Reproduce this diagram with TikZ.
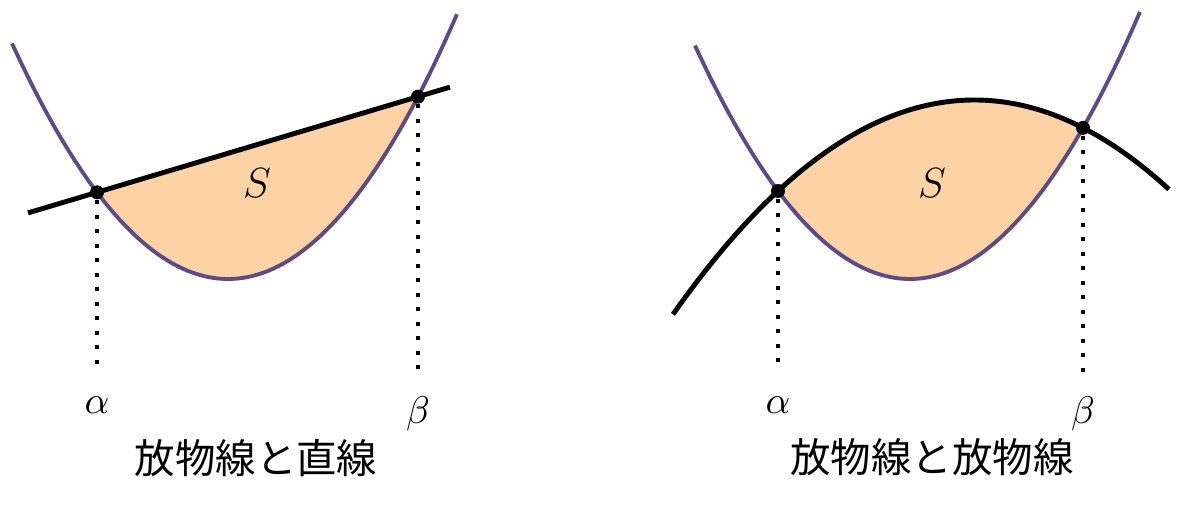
\documentclass[tikz,border=0pt]{standalone}
\usepackage{fontspec}
\newfontfamily\jpfont{Noto Sans CJK JP}
\usetikzlibrary{positioning}

\definecolor{parab}{RGB}{91,75,138}
\definecolor{area}{RGB}{253,210,165}

\tikzset{declare function={
  fl(\x)=2.27+0.505*(\x-2.28)*(\x-2.28);
  hl(\x)=fl(0.97)+(fl(4.18)-fl(0.97))/(4.18-0.97)*(\x-0.97);
  fr(\x)=2.27+0.505*(\x-9.10)*(\x-9.10);
  gr(\x)=fr(\x)-0.741*(\x-7.78)*(\x-10.83);
}}

\begin{document}
\begin{tikzpicture}[
  parabcurve/.style={parab, line width=1.1pt, smooth, samples=80},
  blackcurve/.style={black, line width=1.4pt},
  dotline/.style={line width=0.04cm, dash pattern=on 0.04cm off 0.105cm},
  pt/.style={circle, fill=black, inner sep=0pt, minimum size=0.14cm},
  lbl/.style={anchor=north, inner sep=0pt, font=\fontsize{11}{13}\selectfont},
  arealbl/.style={font=\fontsize{12}{14}\selectfont},
  caption/.style={font=\jpfont\fontsize{11.5}{14}\selectfont}]

\useasboundingbox (0,0) rectangle (12.01,5.06);
%\draw[step=1cm,color=gray!40] (0,0) grid (12,5);

% left: parabola and straight line
\fill[area] plot[smooth, samples=60, domain=0.97:4.18] (\x,{fl(\x)}) -- cycle;
\draw[parabcurve] plot[domain=0.12:4.57] (\x,{fl(\x)});
\coordinate (lineS) at (0.28,{hl(0.28)});
\coordinate (lineE) at (4.50,{hl(4.50)});
\draw[blackcurve] (lineS) -- (lineE);

\node[pt] (aL) at (0.97,{fl(0.97)}) {};
\node[pt] (bL) at (4.18,{fl(4.18)}) {};
\coordinate (aLb) at (0.97,1.34);
\coordinate (bLb) at (4.18,1.34);
\draw[dotline] (aL) -- (aLb);
\draw[dotline] (bL) -- (bLb);
\node[lbl] (aLl) at (0.97,1.10) {$\alpha$};
\node[lbl] (bLl) at (4.18,1.10) {$\beta$};
\node[arealbl] (sL) at (2.57,3.23) {$S$};
\node[caption] (capL) at (2.56,0.48) {放物線と直線};

% right: two parabolas
\fill[area] plot[smooth, samples=60, domain=7.78:10.83] (\x,{fr(\x)})
  -- plot[smooth, samples=60, domain=10.83:7.78] (\x,{gr(\x)}) -- cycle;
\draw[parabcurve] plot[domain=6.95:11.40] (\x,{fr(\x)});
\draw[blackcurve] plot[smooth, samples=80, domain=6.73:11.69] (\x,{gr(\x)});

\node[pt] (aR) at (7.78,{fr(7.78)}) {};
\node[pt] (bR) at (10.83,{fr(10.83)}) {};
\coordinate (aRb) at (7.78,1.34);
\coordinate (bRb) at (10.83,1.34);
\draw[dotline] (aR) -- (aRb);
\draw[dotline] (bR) -- (bRb);
\node[lbl] (aRl) at (7.78,1.10) {$\alpha$};
\node[lbl] (bRl) at (10.83,1.10) {$\beta$};
\node[arealbl] (sR) at (9.32,3.23) {$S$};
\node[caption] (capR) at (9.32,0.49) {放物線と放物線};

\end{tikzpicture}
\end{document}
